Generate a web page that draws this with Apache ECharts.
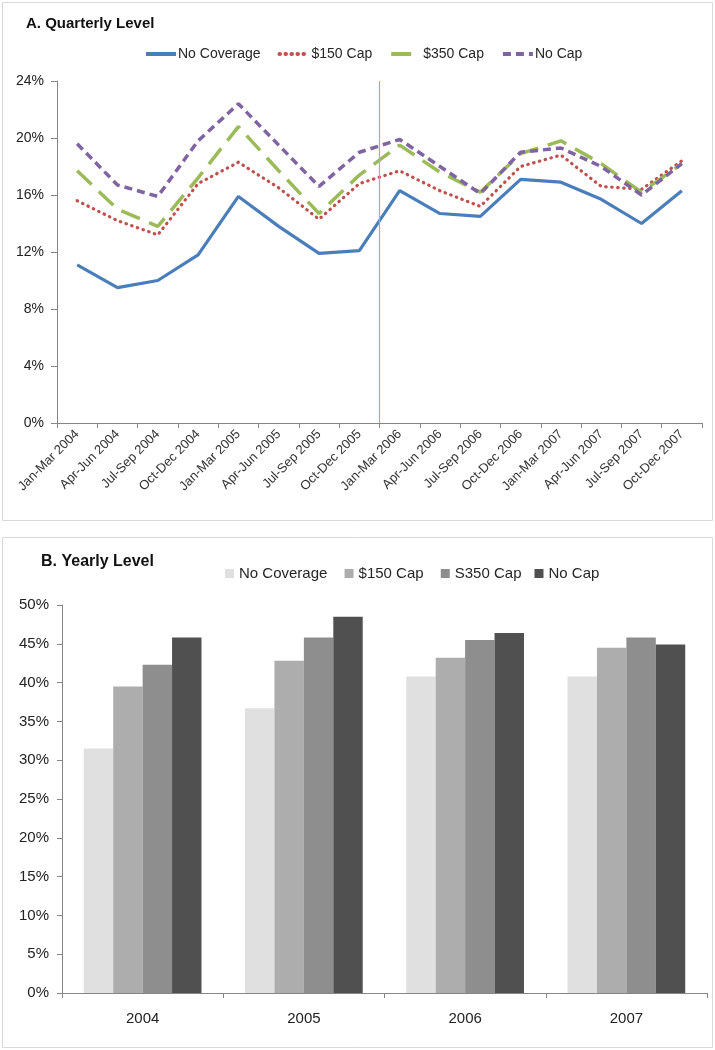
<!DOCTYPE html>
<html>
<head>
<meta charset="utf-8">
<script src="https://cdn.jsdelivr.net/npm/echarts@6/dist/echarts.min.js"></script>
<style>
html,body{margin:0;padding:0;background:#fff;}
#c{width:715px;height:1050px;}
</style>
</head>
<body>
<div id="c"></div>
<script>
// ---- Panel A data (quarterly, %) ----
var quarters = ['Jan-Mar 2004','Apr-Jun 2004','Jul-Sep 2004','Oct-Dec 2004','Jan-Mar 2005','Apr-Jun 2005','Jul-Sep 2005','Oct-Dec 2005','Jan-Mar 2006','Apr-Jun 2006','Jul-Sep 2006','Oct-Dec 2006','Jan-Mar 2007','Apr-Jun 2007','Jul-Sep 2007','Oct-Dec 2007'];
var qNoCoverage = [11.1, 9.5, 10.0, 11.8, 15.9, 13.8, 11.9, 12.1, 16.3, 14.7, 14.5, 17.1, 16.9, 15.7, 14.0, 16.3];
var q150Cap     = [15.6, 14.2, 13.2, 16.8, 18.3, 16.5, 14.3, 16.8, 17.7, 16.3, 15.2, 18.0, 18.8, 16.6, 16.4, 18.4];
var q350Cap     = [17.7, 15.0, 13.8, 17.2, 20.8, 17.7, 14.7, 17.4, 19.5, 17.6, 16.2, 18.9, 19.8, 18.2, 16.2, 18.2];
var qNoCap      = [19.6, 16.7, 15.9, 19.8, 22.4, 19.5, 16.6, 19.0, 19.9, 18.0, 16.1, 19.0, 19.3, 18.0, 16.0, 18.2];
var quarterlyTicks = [0, 4, 8, 12, 16, 20, 24];
var dividerPosition = 8; // boundary before Jan-Mar 2006

// ---- Panel B data (yearly, %) ----
var years = ['2004','2005','2006','2007'];
var yNoCoverage = [31.5, 36.7, 40.8, 40.8];
var y150Cap     = [39.5, 42.8, 43.2, 44.5];
var y350Cap     = [42.3, 45.8, 45.5, 45.8];
var yNoCap      = [45.8, 48.5, 46.4, 44.9];
var yearlyTicks = [0, 5, 10, 15, 20, 25, 30, 35, 40, 45, 50];

var FONT = '"Liberation Sans", Arial, sans-serif';
var TXT = '#262626';
var AX = '#868686';

var chart = echarts.init(document.getElementById('c'), null, {renderer:'canvas'});

var option = {
  backgroundColor: '#fff',
  animation: false,
  textStyle: {fontFamily: FONT, color: TXT},
  graphic: [
    {type:'rect', shape:{x:2.5, y:2.5, width:710, height:518}, style:{fill:'none', stroke:'#d9d9d9', lineWidth:1}, silent:true},
    {type:'rect', shape:{x:2.5, y:537.5, width:710, height:510}, style:{fill:'none', stroke:'#d9d9d9', lineWidth:1}, silent:true}
  ],
  title: [
    {text:'A. Quarterly Level', left:21, top:11, textStyle:{fontFamily:FONT, fontWeight:'bold', fontSize:15, color:'#111'}},
    {text:'B. Yearly Level', left:36, top:549, textStyle:{fontFamily:FONT, fontWeight:'bold', fontSize:16, color:'#111'}}
  ],
  legend: [
    {
      data: ['No Coverage', '$150 Cap', '$350 Cap', 'No Cap'],
      left: 139, top: 42,
      itemWidth: 30, itemHeight: 12, itemGap: 17,
      itemStyle: {opacity: 0},
      lineStyle: {width: 4, inactiveWidth: 4},
      textStyle: {fontFamily: FONT, fontSize: 14, color: TXT, padding:[0,0,0,-3]}
    },
    {
      data: [
        {name:'No Coverage ', icon:'rect'},
        {name:'$150 Cap ', icon:'rect'},
        {name:'S350 Cap', icon:'rect'},
        {name:'No Cap ', icon:'rect'}
      ],
      left: 220, top: 561,
      itemWidth: 9, itemHeight: 9, itemGap: 13,
      textStyle: {fontFamily: FONT, fontSize: 15, color: TXT}
    }
  ],
  grid: [
    {left:57, top:81, width:645, height:342, containLabel:false},
    {left:62, top:605, width:645, height:388, containLabel:false}
  ],
  xAxis: [
    {
      type:'category', gridIndex:0, data: quarters, boundaryGap:true,
      axisLine:{lineStyle:{color:AX, width:1}},
      axisTick:{show:true, alignWithLabel:false, length:5, lineStyle:{color:AX}},
      axisLabel:{rotate:45, fontSize:13, color:'#333', margin:9, fontFamily:FONT, interval:0}
    },
    {
      type:'value', gridIndex:0, min:0, max:16, show:false
    },
    {
      type:'category', gridIndex:1, data: years, boundaryGap:true,
      axisLine:{lineStyle:{color:AX, width:1}},
      axisTick:{show:true, length:5, lineStyle:{color:AX}},
      axisLabel:{fontSize:15, color:'#222', margin:18, fontFamily:FONT}
    }
  ],
  yAxis: [
    {
      type:'value', gridIndex:0, min:0, max:24, interval:4,
      axisLine:{show:true, lineStyle:{color:AX}},
      axisTick:{show:true, length:6, lineStyle:{color:AX}},
      splitLine:{show:false},
      axisLabel:{fontSize:14, color:'#222', margin:13, fontFamily:FONT,
        formatter:function(v){ return quarterlyTicks.indexOf(v) >= 0 ? v + '%' : ''; }}
    },
    {
      type:'value', gridIndex:1, min:0, max:50, interval:5,
      axisLine:{show:true, lineStyle:{color:AX}},
      axisTick:{show:true, length:5, lineStyle:{color:AX}},
      splitLine:{show:false},
      axisLabel:{fontSize:15, color:'#222', margin:13, fontFamily:FONT,
        formatter:function(v){ return yearlyTicks.indexOf(v) >= 0 ? v + '%' : ''; }}
    }
  ],
  series: [
    {name:'No Coverage', type:'line', xAxisIndex:0, yAxisIndex:0, data:qNoCoverage, symbol:'none', showSymbol:false,
      color:'#4a7ebb', lineStyle:{color:'#4a7ebb', width:3.2, type:'solid'}},
    {name:'$150 Cap', type:'line', xAxisIndex:0, yAxisIndex:0, data:q150Cap, symbol:'none', showSymbol:false,
      color:'#c0504d', lineStyle:{color:'#c0504d', width:3.2, type:[0.5,5.5], cap:'round'}},
    {name:'$350 Cap', type:'line', xAxisIndex:0, yAxisIndex:0, data:q350Cap, symbol:'none', showSymbol:false,
      color:'#9bbb59', lineStyle:{color:'#9bbb59', width:3.5, type:[20,10]}},
    {name:'No Cap', type:'line', xAxisIndex:0, yAxisIndex:0, data:qNoCap, symbol:'none', showSymbol:false,
      color:'#8064a2', lineStyle:{color:'#8064a2', width:3.5, type:[8,5]}},
    {name:'divider', type:'line', xAxisIndex:1, yAxisIndex:0, data:[], symbol:'none', silent:true,
      markLine:{silent:true, symbol:['none','none'], label:{show:false},
        lineStyle:{color:'#86b2e2', width:1.2, type:'solid'},
        data:[{xAxis: dividerPosition}]}},

    {name:'No Coverage ', type:'bar', xAxisIndex:2, yAxisIndex:1, data:yNoCoverage, color:'#e0e0e0',
      barGap:'0%', barCategoryGap:'27%', itemStyle:{color:'#e0e0e0'}},
    {name:'$150 Cap ', type:'bar', xAxisIndex:2, yAxisIndex:1, data:y150Cap, color:'#adadad',
      barGap:'0%', barCategoryGap:'27%', itemStyle:{color:'#adadad'}},
    {name:'S350 Cap', type:'bar', xAxisIndex:2, yAxisIndex:1, data:y350Cap, color:'#8e8e8e',
      barGap:'0%', barCategoryGap:'27%', itemStyle:{color:'#8e8e8e'}},
    {name:'No Cap ', type:'bar', xAxisIndex:2, yAxisIndex:1, data:yNoCap, color:'#505050',
      barGap:'0%', barCategoryGap:'27%', itemStyle:{color:'#505050'}}
  ]
};
chart.setOption(option);
</script>
</body>
</html>
